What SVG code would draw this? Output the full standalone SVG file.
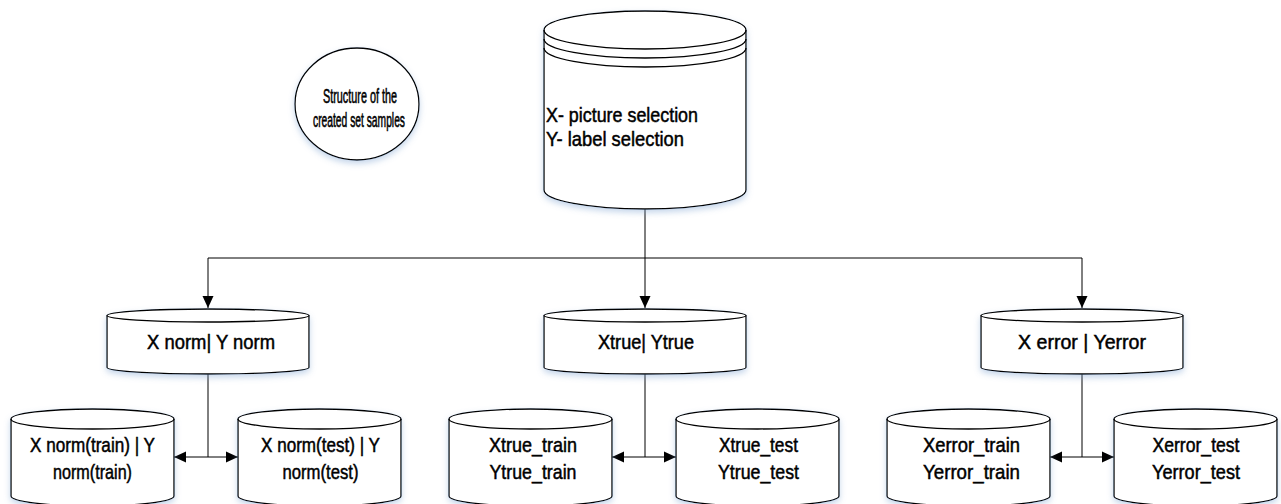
<svg xmlns="http://www.w3.org/2000/svg" width="1281" height="504" viewBox="0 0 1281 504">
  <style>
    .shape { fill: #ffffff; stroke: #000000; stroke-width: 1.3; }
    .rim { fill: none; stroke: #000000; stroke-width: 1.3; }
    .lbl { font-family: "Liberation Sans", Arial, sans-serif; font-size: 21px; fill: #000000; stroke: #000000; stroke-width: 0.5; text-anchor: middle; }
    .lbl-l { font-family: "Liberation Sans", Arial, sans-serif; font-size: 21px; fill: #000000; stroke: #000000; stroke-width: 0.5; }
    .note { font-family: "Liberation Sans", Arial, sans-serif; font-size: 20px; fill: #000000; stroke: #000000; stroke-width: 0.6; text-anchor: middle; }
    .wire { fill: none; stroke: #000000; stroke-width: 1; }
  </style>
  <defs>
    <filter id="glow" x="-20%" y="-20%" width="140%" height="150%">
      <feDropShadow dx="0" dy="3" stdDeviation="3" flood-color="#7fa3d0" flood-opacity="0.45"/>
    </filter>
    <marker id="arrow" viewBox="0 0 12 12" refX="12" refY="6" markerWidth="12" markerHeight="12" markerUnits="userSpaceOnUse" orient="auto-start-reverse">
      <path d="M0,0.5 L12,6 L0,11.5 Z" fill="#000000"/>
    </marker>
  </defs>

  <rect width="1281" height="504" fill="#ffffff"/>

  <!-- connectors -->
  <g id="connectors">
    <path class="wire" d="M645,209 V308" marker-end="url(#arrow)"/>
    <path class="wire" d="M208,258 H1082"/>
    <path class="wire" d="M208,258 V308" marker-end="url(#arrow)"/>
    <path class="wire" d="M1082,258 V308" marker-end="url(#arrow)"/>

    <path class="wire" d="M208,374 V457"/>
    <path class="wire" d="M174,457 H238" marker-start="url(#arrow)" marker-end="url(#arrow)"/>
    <path class="wire" d="M645,374 V457"/>
    <path class="wire" d="M612,457 H676" marker-start="url(#arrow)" marker-end="url(#arrow)"/>
    <path class="wire" d="M1082,374 V457"/>
    <path class="wire" d="M1050,457 H1114" marker-start="url(#arrow)" marker-end="url(#arrow)"/>
  </g>

  <!-- legend ellipse -->
  <g id="legend">
    <ellipse class="shape" cx="357" cy="104" rx="62" ry="56" filter="url(#glow)"/>
    <text class="note" x="360" y="103" textLength="74" lengthAdjust="spacingAndGlyphs">Structure of the</text>
    <text class="note" x="359" y="127" textLength="92" lengthAdjust="spacingAndGlyphs">created set samples</text>
  </g>

  <!-- main storage -->
  <g id="source">
    <path class="shape" filter="url(#glow)" d="M544,30 A101,19 0 0 1 746,30 V190 A101,19 0 0 1 544,190 Z"/>
    <path class="rim" d="M544,30 A101,19 0 0 0 746,30"/>
    <path class="rim" d="M544,39 A101,19 0 0 0 746,39"/>
    <path class="rim" d="M544,48 A101,19 0 0 0 746,48"/>
    <text class="lbl-l" x="546" y="122" textLength="152" lengthAdjust="spacingAndGlyphs">X- picture selection</text>
    <text class="lbl-l" x="546" y="146" textLength="138" lengthAdjust="spacingAndGlyphs">Y- label selection</text>
  </g>

  <!-- middle row -->
  <g id="norm">
    <path class="shape" filter="url(#glow)" d="M107,315.5 A101,6.5 0 0 1 309,315.5 V367.5 A101,6.5 0 0 1 107,367.5 Z"/>
    <path class="rim" d="M107,315.5 A101,6.5 0 0 0 309,315.5"/>
    <text class="lbl" x="211" y="349" textLength="128" lengthAdjust="spacingAndGlyphs">X norm| Y norm</text>
  </g>
  <g id="true">
    <path class="shape" filter="url(#glow)" d="M544,315.5 A101,6.5 0 0 1 746,315.5 V367.5 A101,6.5 0 0 1 544,367.5 Z"/>
    <path class="rim" d="M544,315.5 A101,6.5 0 0 0 746,315.5"/>
    <text class="lbl" x="646" y="349" textLength="96" lengthAdjust="spacingAndGlyphs">Xtrue| Ytrue</text>
  </g>
  <g id="error">
    <path class="shape" filter="url(#glow)" d="M981,315.5 A101,6.5 0 0 1 1183,315.5 V367.5 A101,6.5 0 0 1 981,367.5 Z"/>
    <path class="rim" d="M981,315.5 A101,6.5 0 0 0 1183,315.5"/>
    <text class="lbl" x="1082" y="349" textLength="128" lengthAdjust="spacingAndGlyphs">X error | Yerror</text>
  </g>

  <!-- bottom row -->
  <g id="norm-train">
    <path class="shape" filter="url(#glow)" d="M11,419 A81.5,10 0 0 1 174,419 V496 A81.5,10 0 0 1 11,496 Z"/>
    <path class="rim" d="M11,419 A81.5,10 0 0 0 174,419"/>
    <text class="lbl" x="92.5" y="452" textLength="125" lengthAdjust="spacingAndGlyphs">X norm(train) | Y</text>
    <text class="lbl" x="92.5" y="479" textLength="79" lengthAdjust="spacingAndGlyphs">norm(train)</text>
  </g>
  <g id="norm-test">
    <path class="shape" filter="url(#glow)" d="M238,419 A81.5,10 0 0 1 401,419 V496 A81.5,10 0 0 1 238,496 Z"/>
    <path class="rim" d="M238,419 A81.5,10 0 0 0 401,419"/>
    <text class="lbl" x="320.5" y="452" textLength="119" lengthAdjust="spacingAndGlyphs">X norm(test) | Y</text>
    <text class="lbl" x="320.5" y="479" textLength="76" lengthAdjust="spacingAndGlyphs">norm(test)</text>
  </g>
  <g id="true-train">
    <path class="shape" filter="url(#glow)" d="M449,419 A81.5,10 0 0 1 612,419 V496 A81.5,10 0 0 1 449,496 Z"/>
    <path class="rim" d="M449,419 A81.5,10 0 0 0 612,419"/>
    <text class="lbl" x="533" y="452" textLength="88" lengthAdjust="spacingAndGlyphs">Xtrue_train</text>
    <text class="lbl" x="533" y="479" textLength="87" lengthAdjust="spacingAndGlyphs">Ytrue_train</text>
  </g>
  <g id="true-test">
    <path class="shape" filter="url(#glow)" d="M676,419 A81.5,10 0 0 1 839,419 V496 A81.5,10 0 0 1 676,496 Z"/>
    <path class="rim" d="M676,419 A81.5,10 0 0 0 839,419"/>
    <text class="lbl" x="758.5" y="452" textLength="79" lengthAdjust="spacingAndGlyphs">Xtrue_test</text>
    <text class="lbl" x="758.5" y="479" textLength="81" lengthAdjust="spacingAndGlyphs">Ytrue_test</text>
  </g>
  <g id="error-train">
    <path class="shape" filter="url(#glow)" d="M887,419 A81.5,10 0 0 1 1050,419 V496 A81.5,10 0 0 1 887,496 Z"/>
    <path class="rim" d="M887,419 A81.5,10 0 0 0 1050,419"/>
    <text class="lbl" x="971.5" y="452" textLength="97" lengthAdjust="spacingAndGlyphs">Xerror_train</text>
    <text class="lbl" x="971.5" y="479" textLength="97" lengthAdjust="spacingAndGlyphs">Yerror_train</text>
  </g>
  <g id="error-test">
    <path class="shape" filter="url(#glow)" d="M1114,419 A81.5,10 0 0 1 1277,419 V496 A81.5,10 0 0 1 1114,496 Z"/>
    <path class="rim" d="M1114,419 A81.5,10 0 0 0 1277,419"/>
    <text class="lbl" x="1196" y="452" textLength="87" lengthAdjust="spacingAndGlyphs">Xerror_test</text>
    <text class="lbl" x="1196" y="479" textLength="88" lengthAdjust="spacingAndGlyphs">Yerror_test</text>
  </g>
</svg>
